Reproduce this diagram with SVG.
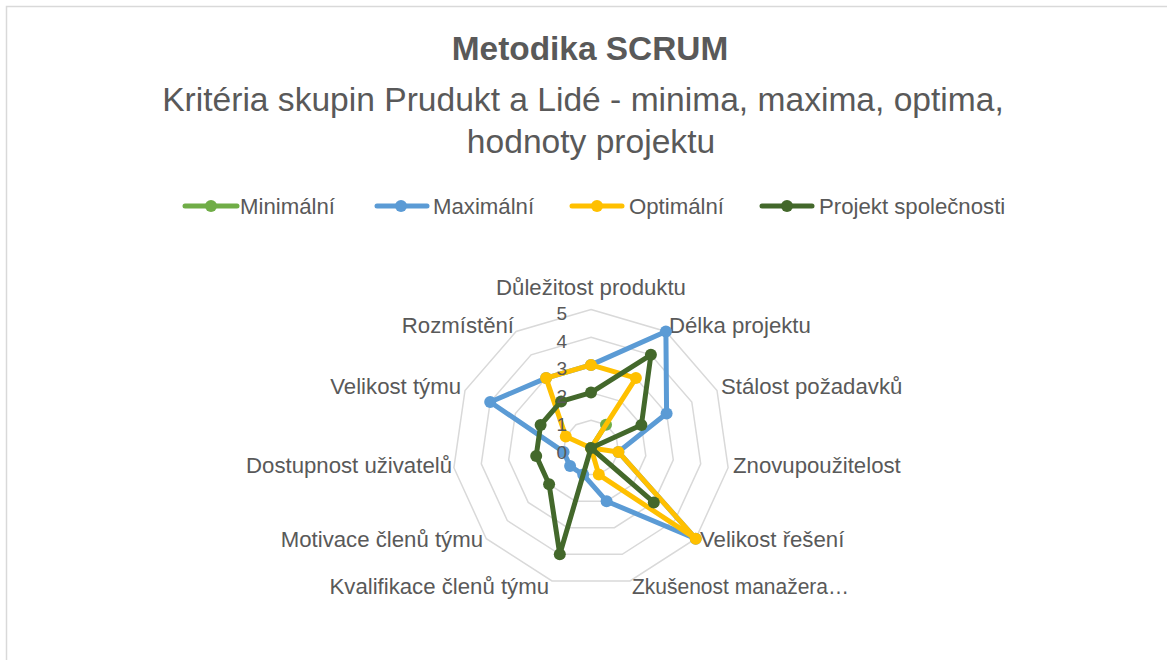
<svg xmlns="http://www.w3.org/2000/svg" width="1167" height="660" viewBox="0 0 1167 660">
  <style>
    text { font-family: "Liberation Sans", Arial, sans-serif; fill: #595959; }
    .title { font-size: 33.4px; font-weight: bold; text-anchor: middle; }
    .sub { font-size: 33.6px; text-anchor: middle; }
    .leg { font-size: 22.2px; }
    .cat { font-size: 22.2px; }
    .tick { font-size: 19px; text-anchor: end; }
    .grid { fill: none; stroke: #d9d9d9; stroke-width: 1.5; }
    .s { fill: none; stroke-width: 5; stroke-linejoin: round; stroke-linecap: round; }
    .min { stroke: #70ad47; } .minf { fill: #70ad47; }
    .max { stroke: #5b9bd5; } .maxf { fill: #5b9bd5; }
    .opt { stroke: #ffc000; } .optf { fill: #ffc000; }
    .prj { stroke: #43682b; } .prjf { fill: #43682b; }
  </style>
  <defs>
    <circle id="mk" r="6"/>
  </defs>
  <rect x="0" y="0" width="1167" height="660" fill="#ffffff"/>
  <rect x="6.5" y="6.5" width="1200" height="700" fill="none" stroke="#d9d9d9" stroke-width="1.5"/>

  <g id="title">
    <text class="title" x="590" y="60">Metodika SCRUM</text>
    <text class="sub" x="583" y="111">Kritéria skupin Prudukt a Lidé - minima, maxima, optima,</text>
    <text class="sub" x="591" y="153">hodnoty projektu</text>
  </g>

  <g id="legend">
    <g id="legend-min">
      <line class="s min" x1="185" y1="206" x2="237" y2="206"/>
      <use href="#mk" x="211" y="206" class="minf"/>
      <text class="leg" x="240" y="214">Minimální</text>
    </g>
    <g id="legend-max">
      <line class="s max" x1="377" y1="206" x2="427" y2="206"/>
      <use href="#mk" x="401" y="206" class="maxf"/>
      <text class="leg" x="433" y="214">Maximální</text>
    </g>
    <g id="legend-opt">
      <line class="s opt" x1="572" y1="206" x2="622" y2="206"/>
      <use href="#mk" x="597" y="206" class="optf"/>
      <text class="leg" x="629" y="214">Optimální</text>
    </g>
    <g id="legend-prj">
      <line class="s prj" x1="762" y1="206" x2="812" y2="206"/>
      <use href="#mk" x="787" y="206" class="prjf"/>
      <text class="leg" x="819" y="214">Projekt společnosti</text>
    </g>
  </g>

  <g id="grid">
    <polygon class="grid" points="591,420.3 606.0,424.7 616.2,436.5 618.4,451.9 611.9,466.1 598.8,474.6 583.2,474.6 570.1,466.1 563.6,451.9 565.8,436.5 576.0,424.7"/>
    <polygon class="grid" points="591,392.6 621.0,401.4 641.4,425.0 645.8,455.9 632.9,484.3 606.6,501.2 575.4,501.2 549.1,484.3 536.2,455.9 540.6,425.0 561.0,401.4"/>
    <polygon class="grid" points="591,364.9 635.9,378.1 666.6,413.5 673.3,459.8 653.8,502.4 614.4,527.7 567.6,527.7 528.2,502.4 508.7,459.8 515.4,413.5 546.1,378.1"/>
    <polygon class="grid" points="591,337.2 650.9,354.8 691.8,402.0 700.7,463.8 674.7,520.6 622.2,554.3 559.8,554.3 507.3,520.6 481.3,463.8 490.2,402.0 531.1,354.8"/>
    <polygon class="grid" points="591,309.5 665.9,331.5 717.0,390.5 728.1,467.7 695.7,538.7 630.0,580.9 552.0,580.9 486.3,538.7 453.9,467.7 465.0,390.5 516.1,331.5"/>
  </g>

  <g id="categories">
    <text class="cat" x="591" y="295" text-anchor="middle">Důležitost produktu</text>
    <text class="cat" x="669" y="333">Délka projektu</text>
    <text class="cat" x="721" y="394">Stálost požadavků</text>
    <text class="cat" x="733" y="473">Znovupoužitelost</text>
    <text class="cat" x="700" y="547">Velikost řešení</text>
    <text class="cat" x="632" y="594" textLength="217" lengthAdjust="spacingAndGlyphs">Zkušenost manažera…</text>
    <text class="cat" x="549" y="594" text-anchor="end">Kvalifikace členů týmu</text>
    <text class="cat" x="483" y="547" text-anchor="end">Motivace členů týmu</text>
    <text class="cat" x="452" y="473" text-anchor="end">Dostupnost uživatelů</text>
    <text class="cat" x="461" y="394" text-anchor="end">Velikost týmu</text>
    <text class="cat" x="514" y="333" text-anchor="end">Rozmístění</text>
  </g>

  <g id="series-min">
    <polygon class="s min" points="591,448 606.0,424.7 591,448 591,448 591,448 591,448 591,448 591,448 591,448 591,448 591,448"/>
    <g class="minf">
      <use href="#mk" x="591" y="448"/><use href="#mk" x="606.0" y="424.7"/>
    </g>
  </g>

  <g id="series-max">
    <polygon class="s max" points="591,364.9 665.9,331.5 666.6,413.5 618.4,451.9 695.7,538.7 606.6,501.2 583.2,474.6 570.1,466.1 563.6,451.9 490.2,402.0 546.1,378.1"/>
    <g class="maxf">
      <use href="#mk" x="591" y="364.9"/><use href="#mk" x="665.9" y="331.5"/><use href="#mk" x="666.6" y="413.5"/>
      <use href="#mk" x="618.4" y="451.9"/><use href="#mk" x="695.7" y="538.7"/><use href="#mk" x="606.6" y="501.2"/>
      <use href="#mk" x="583.2" y="474.6"/><use href="#mk" x="570.1" y="466.1"/><use href="#mk" x="563.6" y="451.9"/>
      <use href="#mk" x="490.2" y="402.0"/><use href="#mk" x="546.1" y="378.1"/>
    </g>
  </g>

  <g id="series-opt">
    <polygon class="s opt" points="591,364.9 635.9,378.1 591,448 618.4,451.9 695.7,538.7 598.8,474.6 591,448 591,448 591,448 565.8,436.5 546.1,378.1"/>
    <g class="optf">
      <use href="#mk" x="591" y="364.9"/><use href="#mk" x="635.9" y="378.1"/><use href="#mk" x="591" y="448"/>
      <use href="#mk" x="618.4" y="451.9"/><use href="#mk" x="695.7" y="538.7"/><use href="#mk" x="598.8" y="474.6"/>
      <use href="#mk" x="565.8" y="436.5"/><use href="#mk" x="546.1" y="378.1"/>
    </g>
  </g>

  <g id="series-prj">
    <polygon class="s prj" points="591,392.6 650.9,354.8 641.4,425.0 591,448 653.8,502.4 591,448 559.8,554.3 549.1,484.3 536.2,455.9 540.6,425.0 561.1,401.4"/>
    <g class="prjf">
      <use href="#mk" x="591" y="392.6"/><use href="#mk" x="650.9" y="354.8"/><use href="#mk" x="641.4" y="425.0"/>
      <use href="#mk" x="591" y="448"/><use href="#mk" x="653.8" y="502.4"/><use href="#mk" x="559.8" y="554.3"/>
      <use href="#mk" x="549.1" y="484.3"/><use href="#mk" x="536.2" y="455.9"/><use href="#mk" x="540.6" y="425.0"/>
      <use href="#mk" x="561.1" y="401.4"/>
    </g>
  </g>

  <g id="ticks">
    <text class="tick" x="567" y="458.5">0</text>
    <text class="tick" x="567" y="430.8">1</text>
    <text class="tick" x="567" y="403.1">2</text>
    <text class="tick" x="567" y="375.4">3</text>
    <text class="tick" x="567" y="347.7">4</text>
    <text class="tick" x="567" y="320">5</text>
  </g>
</svg>
